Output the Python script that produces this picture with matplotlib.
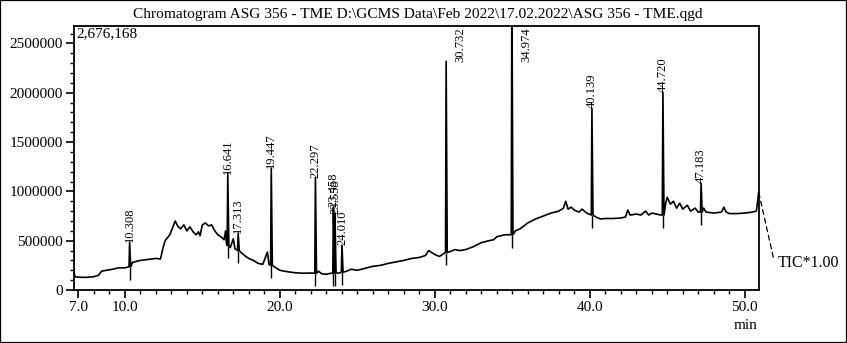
import numpy as np
import matplotlib
matplotlib.use("Agg")
import matplotlib.pyplot as plt
from matplotlib.patches import Rectangle
from matplotlib.ticker import MultipleLocator, FixedLocator

plt.rcParams['font.family'] = ['Liberation Serif', 'DejaVu Serif']

title = "Chromatogram ASG 356 - TME D:\\GCMS Data\\Feb 2022\\17.02.2022\\ASG 356 - TME.qgd"

# baseline of the TIC trace (retention time in min, intensity)
rt_base = [6.72, 6.78, 7.0, 7.5, 8.0, 8.3, 8.5, 8.8, 9.2, 9.6, 10.0, 10.5, 11.0, 11.5,
           12.0, 12.3, 12.45, 12.6, 12.9, 13.1, 13.25, 13.4, 13.6, 13.8, 14.0, 14.2,
           14.4, 14.6, 14.75, 14.85, 15.0, 15.2, 15.4, 15.6, 15.8, 16.0, 16.2, 16.4,
           16.5, 16.55, 16.8, 17.0, 17.1, 17.5, 17.8, 18.0, 18.3, 18.6, 18.9, 19.2,
           19.3, 19.7, 20.0, 20.5, 21.0, 21.5, 22.0, 22.5, 22.7, 23.0, 23.3, 23.8,
           24.3, 24.6, 25.0, 25.5, 26.0, 26.5, 27.0, 27.5, 28.0, 28.5, 29.0, 29.4,
           29.6, 29.8, 30.0, 30.3, 30.5, 31.0, 31.3, 31.6, 32.0, 32.5, 33.0, 33.5,
           33.8, 34.0, 34.5, 35.2, 35.5, 36.0, 36.5, 37.0, 37.5, 38.0, 38.3, 38.45,
           38.6, 38.8, 39.0, 39.3, 39.5, 39.8, 40.4, 40.7, 41.0, 41.5, 42.0, 42.3,
           42.45, 42.6, 43.0, 43.3, 43.6, 43.8, 44.0, 44.3, 44.6, 44.9, 45.0, 45.2,
           45.4, 45.6, 45.8, 46.0, 46.3, 46.5, 46.8, 47.0, 47.35, 47.5, 48.0, 48.5,
           48.65, 48.8, 49.0, 49.5, 50.0, 50.5, 50.75, 50.9]
tic_base = [180000, 135000, 130000, 128000, 135000, 150000, 190000, 200000, 210000, 225000,
            225000, 280000, 300000, 310000, 320000, 315000, 420000, 500000, 560000, 640000,
            700000, 650000, 620000, 660000, 600000, 640000, 590000, 560000, 590000, 550000,
            660000, 680000, 650000, 660000, 600000, 560000, 540000, 510000, 600000, 480000,
            430000, 520000, 420000, 380000, 340000, 320000, 300000, 270000, 260000, 385000,
            260000, 230000, 200000, 185000, 175000, 170000, 172000, 190000, 165000, 160000,
            170000, 170000, 190000, 210000, 200000, 220000, 240000, 250000, 270000, 285000,
            300000, 320000, 330000, 350000, 400000, 380000, 360000, 340000, 360000, 390000,
            410000, 400000, 410000, 440000, 480000, 500000, 510000, 540000, 560000, 600000,
            620000, 680000, 720000, 750000, 780000, 800000, 830000, 900000, 820000, 840000,
            810000, 790000, 820000, 780000, 740000, 720000, 725000, 725000, 730000, 740000,
            810000, 760000, 770000, 760000, 800000, 760000, 780000, 770000, 760000, 880000,
            940000, 870000, 900000, 830000, 880000, 820000, 860000, 800000, 830000, 790000,
            830000, 790000, 780000, 790000, 840000, 790000, 775000, 775000, 780000, 790000,
            800000, 990000]

# labelled peaks
peak_rt = [10.308, 16.641, 17.313, 19.447, 22.297, 23.458, 23.558, 24.010,
           30.732, 34.974, 40.139, 44.720, 47.183]
peak_top = [486000, 1180000, 577000, 1235000, 1140000, 840000, 775000, 455000,
            2318000, 3100000, 1842000, 2004000, 1083000]
peak_foot = [235000, 450000, 400000, 250000, 170000, 170000, 175000, 180000,
             380000, 560000, 760000, 760000, 790000]
peak_label = ["10.308", "16.641", "17.313", "19.447", "22.297", "23.458", "23.558",
              "24.010", "30.732", "34.974", "40.139", "44.720", "47.183"]

y_max = 2676168

# merge baseline with peak apex and feet
rt_all = list(rt_base)
tic_all = list(tic_base)
for t, top, foot in zip(peak_rt, peak_top, peak_foot):
    rt_all += [t - 0.04, t, t + 0.07]
    tic_all += [foot, top, foot]
order = np.argsort(rt_all)
rt_all = np.array(rt_all)[order]
tic_all = np.array(tic_all)[order]

fig = plt.figure(figsize=(8.47, 3.43), dpi=100)
ax = fig.add_axes([0.0874, 0.1545, 0.8087, 0.7695])

ax.plot(rt_all, tic_all, color='black', lw=1.2)
# integration marks crossing the baseline
ax.vlines(peak_rt, np.array(peak_foot) - 130000, peak_foot, color='black', lw=1.0)

ax.set_xlim(6.72, 50.92)
ax.set_ylim(0, y_max)

for t, top, lab in zip(peak_rt, peak_top, peak_label):
    if top > 2200000:
        ax.text(t + 0.95, y_max * 0.995, lab, rotation=90, ha='center', va='top',
                fontsize=9)
    else:
        ax.text(t, top, lab, rotation=90, ha='center', va='bottom', fontsize=9)

ax.text(0.004, 0.995, "2,676,168", transform=ax.transAxes, ha='left', va='top',
        fontsize=11)

ax.xaxis.set_major_locator(FixedLocator([7, 10, 20, 30, 40, 50]))
ax.set_xticklabels(["7.0", "10.0", "20.0", "30.0", "40.0", "50.0"])
ax.xaxis.set_minor_locator(MultipleLocator(1))
ax.yaxis.set_minor_locator(MultipleLocator(100000))
ax.set_yticks([0, 500000, 1000000, 1500000, 2000000, 2500000])
ax.set_yticklabels(["0", "500000", "1000000", "1500000", "2000000", "2500000"])
ax.tick_params(axis='both', which='major', direction='out', length=6, width=1.2,
               labelsize=11, pad=2)
ax.tick_params(axis='both', which='minor', direction='out', length=3, width=1.0)
for s in ax.spines.values():
    s.set_linewidth(1.3)

fig.text(0.493, 0.958, title, ha='center', va='center', fontsize=11.1)
fig.text(0.88, 0.05, "min", ha='center', va='center', fontsize=11)

# dashed leader from the trace end to the TIC label
ax.annotate("", xy=(rt_base[-1], tic_base[-1]), xycoords='data',
            xytext=(0.913, 0.25), textcoords='figure fraction',
            annotation_clip=False,
            arrowprops=dict(arrowstyle='-', ls=(0, (4, 3)), lw=0.9, color='black',
                            shrinkA=0, shrinkB=0))
fig.text(0.918, 0.233, "TIC*1.00", ha='left', va='center', fontsize=11.5)

fig.patches.append(Rectangle((0, 0), 1, 1, transform=fig.transFigure, fill=False,
                             lw=1.6, ec='black'))

fig.savefig("out.png", dpi=100)
